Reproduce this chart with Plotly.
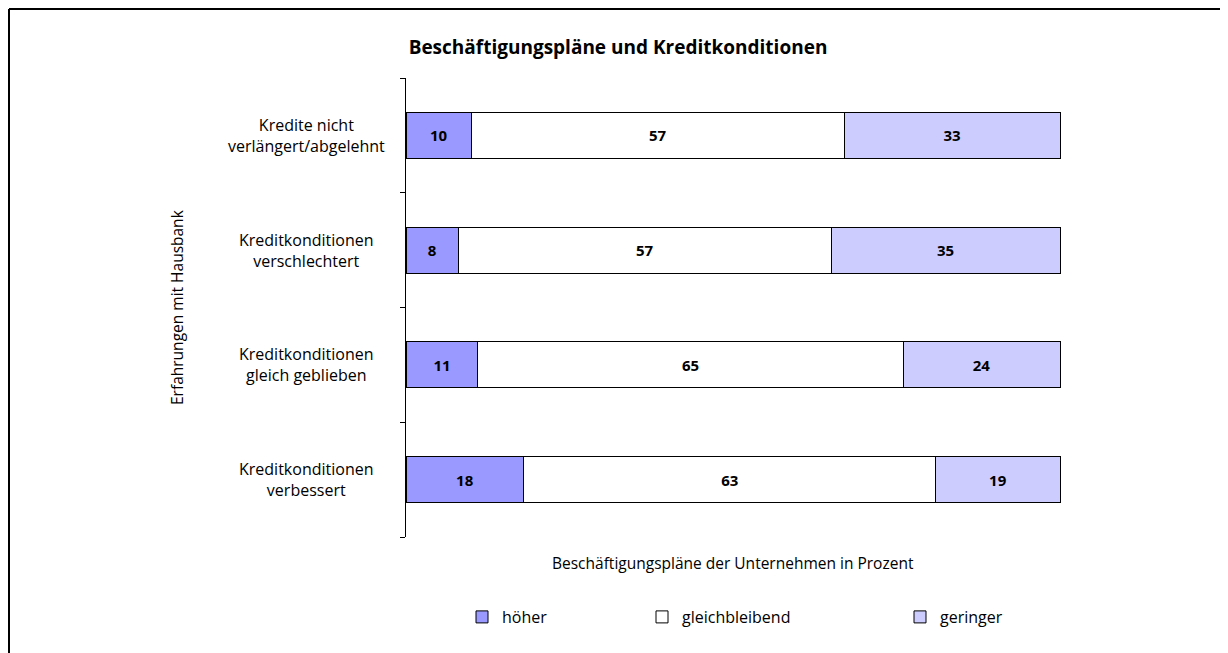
import plotly.graph_objects as go

categories = ["Kredite nicht<br>verlängert/abgelehnt", "Kreditkonditionen<br>verschlechtert",
              "Kreditkonditionen<br>gleich geblieben", "Kreditkonditionen<br>verbessert"]
hoeher = [10, 8, 11, 18]
gleichbleibend = [57, 57, 65, 63]
geringer = [33, 35, 24, 19]
series_names = ["höher", "gleichbleibend", "geringer"]
colors = ["#9999FF", "#FFFFFF", "#CCCCFF"]

OFF = 8  # page body margin
W, H = 1220, 645
# plot area in page coordinates (100 % sits at page x 1060; area widened 2px so the bar edge is not clipped)
PL, P100, PT, PB = 406, 1060, 78, 537
PR = P100 + 2
XMAX = 100 * (PR - PL) / (P100 - PL)
L, R, T, B = PL - OFF, PR - OFF, PT - OFF, PB - OFF
FONT = "Open Sans"


def px(x_page):
    return (x_page - OFF - L) / (R - L)


def py(y_page):
    return (B - (y_page - OFF)) / (B - T)


fig = go.Figure()
legends = ["legend", "legend2", "legend3"]
for name, vals, col, lg in zip(series_names, [hoeher, gleichbleibend, geringer], colors, legends):
    fig.add_trace(go.Bar(
        y=categories, x=vals, name=name, orientation="h",
        marker=dict(color=col, line=dict(color="black", width=1)),
        text=[str(v) for v in vals], textposition="inside", insidetextanchor="middle",
        textangle=0, constraintext="none",
        textfont=dict(family=FONT, size=15, color="black", weight="bold"),
        legend=lg, hoverinfo="skip"))

leg_common = dict(orientation="h", yanchor="middle", xanchor="left", bgcolor="rgba(0,0,0,0)",
                  font=dict(family=FONT, size=16, color="black"))
# legend left edges (page coords); square centre = left + 19
leg_x = [462, 642, 900]

fig.update_layout(
    width=W, height=H,
    margin=dict(l=L, r=W - R, t=T, b=H - B, pad=0),
    paper_bgcolor="white", plot_bgcolor="white",
    barmode="stack", bargap=0.6,
    font=dict(family=FONT, size=15, color="black"),
    showlegend=True,
    legend=dict(x=px(leg_x[0]), y=py(617), **leg_common),
    legend2=dict(x=px(leg_x[1]), y=py(617), **leg_common),
    legend3=dict(x=px(leg_x[2]), y=py(617), **leg_common),
    title=dict(text="<b>Beschäftigungspläne und Kreditkonditionen</b>", xref="container",
               x=(618 - OFF) / W, xanchor="center", yref="container",
               y=1 - (47 - OFF) / H, yanchor="middle", font=dict(family=FONT, size=19, color="black")),
    xaxis=dict(range=[0, XMAX], showgrid=False, zeroline=False, showline=False, showticklabels=False,
               ticks="", fixedrange=True,
               title=dict(text="Beschäftigungspläne der Unternehmen in Prozent", standoff=19,
                          font=dict(family=FONT, size=15.5))),
    yaxis=dict(categoryorder="array", categoryarray=categories[::-1], showgrid=False, zeroline=False,
               showline=True, linecolor="black", linewidth=1, ticks="outside", tickson="boundaries",
               ticklen=5, tickcolor="black", showticklabels=False, fixedrange=True),
)

for cat in categories:
    fig.add_annotation(x=px(306), y=cat, xref="paper", yref="y", text=cat, showarrow=False,
                       xanchor="center", yanchor="middle", align="center",
                       font=dict(family=FONT, size=16, color="black"))

fig.add_annotation(x=px(177), y=py(307), xref="paper", yref="paper", text="Erfahrungen mit Hausbank",
                   textangle=-90, showarrow=False, xanchor="center", yanchor="middle",
                   font=dict(family=FONT, size=15.5, color="black"))

# x-axis title centred under the 0-100 span
fig.layout.xaxis.title.text = None
fig.add_annotation(x=px((PL + P100) / 2), y=py(563), xref="paper", yref="paper",
                   text="Beschäftigungspläne der Unternehmen in Prozent", showarrow=False,
                   xanchor="center", yanchor="middle", font=dict(family=FONT, size=15.5, color="black"))

# frame of the original picture (top and left edges visible)
fig.add_shape(type="line", xref="paper", yref="paper", x0=px(9), x1=px(1260), y0=py(9), y1=py(9),
              line=dict(color="black", width=2))
fig.add_shape(type="line", xref="paper", yref="paper", x0=px(9), x1=px(9), y0=py(9), y1=py(680),
              line=dict(color="black", width=2))

fig.write_html("out.html")
